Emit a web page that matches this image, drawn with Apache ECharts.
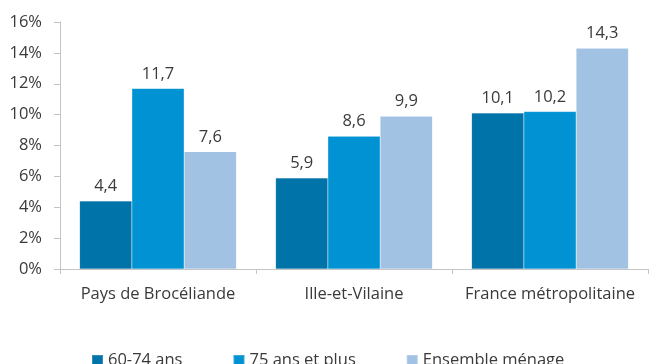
<!DOCTYPE html>
<html>
<head>
<meta charset="utf-8">
<script src="https://cdn.jsdelivr.net/npm/echarts@6/dist/echarts.min.js"></script>
<style>
  html, body { margin: 0; padding: 0; background: #fff; }
  #chart { width: 649px; height: 364px; }
</style>
</head>
<body>
<div id="chart"></div>
<script>
// Territories compared
const categories = ['Pays de Brocéliande', 'Ille-et-Vilaine', 'France métropolitaine'];
// Shares (%) by age group
const age6074 = [4.4, 5.9, 10.1];
const age75plus = [11.7, 8.6, 10.2];
const ensemble = [7.6, 9.9, 14.3];
const seriesNames = ['60-74 ans', '75 ans et plus', 'Ensemble ménage'];
const colors = ['#0073A9', '#0092D3', '#A2C2E4'];

const textColor = '#3a3a3a';
const fontFamily = '"Open Sans", "Noto Sans", sans-serif';
const fontSize = 16.5;

const chart = echarts.init(document.getElementById('chart'), null, { renderer: 'canvas' });

const makeSeries = (name, data, color) => ({
  name: name,
  type: 'bar',
  data: data,
  barGap: '0%',
  barCategoryGap: '20%',
  itemStyle: { color: color, borderColor: 'rgba(255,255,255,0.2)', borderWidth: 0.5 },
  label: {
    show: true,
    position: 'top',
    distance: 6,
    color: textColor,
    fontFamily: fontFamily,
    fontSize: fontSize,
    formatter: p => String(p.value).replace('.', ',')
  }
});

chart.setOption({
  animation: false,
  textStyle: { fontFamily: fontFamily },
  grid: { left: 60, right: 1, top: 22, bottom: 95, containLabel: false },
  legend: {
    data: seriesNames,
    left: 86,
    top: 347,
    icon: 'rect',
    itemWidth: 11,
    itemHeight: 11,
    itemGap: 50,
    textStyle: { color: textColor, fontSize: fontSize, fontFamily: fontFamily }
  },
  xAxis: {
    type: 'category',
    data: categories,
    axisLine: { lineStyle: { color: '#c4c4c4', width: 1 } },
    axisTick: { show: true, length: 5, lineStyle: { color: '#c4c4c4' } },
    axisLabel: { color: textColor, fontSize: fontSize, margin: 17, interval: 0, fontFamily: fontFamily }
  },
  yAxis: {
    type: 'value',
    min: 0,
    max: 16,
    interval: 2,
    splitLine: { show: false },
    axisLine: { show: true, lineStyle: { color: '#c4c4c4', width: 1 } },
    axisTick: { show: true, length: 6, lineStyle: { color: '#c4c4c4' } },
    axisLabel: { color: textColor, fontSize: fontSize, margin: 18, fontFamily: fontFamily, formatter: v => v + '%' }
  },
  series: [
    makeSeries(seriesNames[0], age6074, colors[0]),
    makeSeries(seriesNames[1], age75plus, colors[1]),
    makeSeries(seriesNames[2], ensemble, colors[2])
  ]
});
</script>
</body>
</html>
